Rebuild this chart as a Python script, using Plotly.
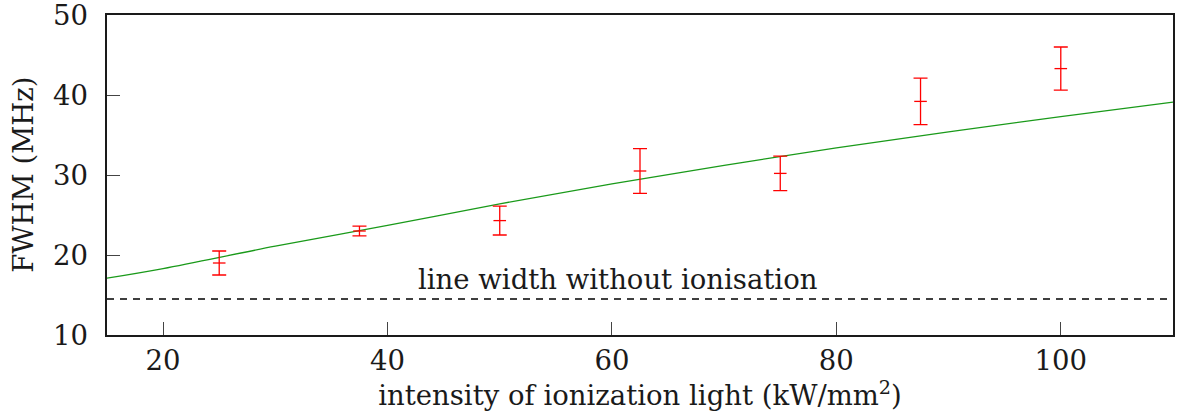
import plotly.graph_objects as go

# Measured line widths versus ionization light intensity
intensity = [25.0, 37.5, 50.0, 62.5, 75.0, 87.5, 100.0]
fwhm = [19.0, 23.0, 24.3, 30.5, 30.2, 39.2, 43.3]
fwhm_err = [1.5, 0.6, 1.8, 2.8, 2.15, 2.9, 2.7]

# Fitted curve, sampled along the intensity axis
fit_x = [15, 20, 30, 40, 50, 60, 70, 80, 90, 100, 110]
fit_y = [17.1, 18.3, 21.1, 23.7, 26.4, 28.9, 31.2, 33.4, 35.4, 37.3, 39.1]

# Line width without ionisation light
baseline_width = 14.5
baseline_label = "line width without ionisation"

x_ticks = [20, 40, 60, 80, 100]
y_ticks = [10, 20, 30, 40, 50]

FONT = "DejaVu Serif"
INK = "#1a1a1a"
FS = 27.5

fig = go.Figure()

fig.add_trace(go.Scatter(
    x=fit_x, y=fit_y, mode="lines", line=dict(color="#1a9a1a", width=1.3, shape="spline"),
    hoverinfo="skip", showlegend=False,
))

fig.add_trace(go.Scatter(
    x=[15, 110], y=[baseline_width, baseline_width], mode="lines",
    line=dict(color="black", width=1.5, dash="7px,6px"), showlegend=False,
))

fig.add_trace(go.Scatter(
    x=intensity, y=fwhm, mode="markers",
    marker=dict(symbol="line-ew", size=9, color="red", line=dict(color="red", width=1.3)),
    error_y=dict(type="data", array=fwhm_err, visible=True, color="red", thickness=1.3, width=7),
    showlegend=False,
))

fig.add_annotation(
    x=60.5, y=baseline_width, xref="x", yref="y", text=baseline_label, showarrow=False,
    yanchor="bottom", yshift=2, font=dict(family=FONT, size=FS, color=INK),
)

# y tick labels drawn as annotations so the top one is not dropped
for v in y_ticks:
    fig.add_annotation(
        x=0, xref="paper", y=v, yref="y", text=str(v), showarrow=False,
        xanchor="right", xshift=-17, yanchor="middle", font=dict(family=FONT, size=FS, color=INK),
    )

fig.add_annotation(
    x=-0.079, xref="paper", y=0.5, yref="paper", text="FWHM (MHz)", showarrow=False,
    textangle=-90, xanchor="center", yanchor="middle", font=dict(family=FONT, size=FS, color=INK),
)

fig.update_layout(
    width=1187, height=415,
    margin=dict(l=107, r=12, t=15, b=80),
    paper_bgcolor="white", plot_bgcolor="white",
    font=dict(family=FONT, size=FS, color=INK),
)

fig.update_xaxes(
    range=[15, 110], tickvals=x_ticks, ticks="inside", ticklen=13, tickwidth=1.2, tickcolor="#444",
    showline=True, linecolor=INK, linewidth=1.8, mirror=True, showgrid=False, zeroline=False,
    title=dict(text="intensity of ionization light (kW/mm<sup>2</sup>)", standoff=0,
               font=dict(family=FONT, size=FS, color=INK)),
    tickfont=dict(family=FONT, size=FS, color=INK),
)

fig.update_yaxes(
    range=[10, 50], tickvals=y_ticks, ticks="inside", ticklen=13, tickwidth=1.2, tickcolor="#444",
    showline=True, linecolor=INK, linewidth=1.8, mirror=True, showgrid=False, zeroline=False,
    showticklabels=False,
)

fig.write_html("out.html")
